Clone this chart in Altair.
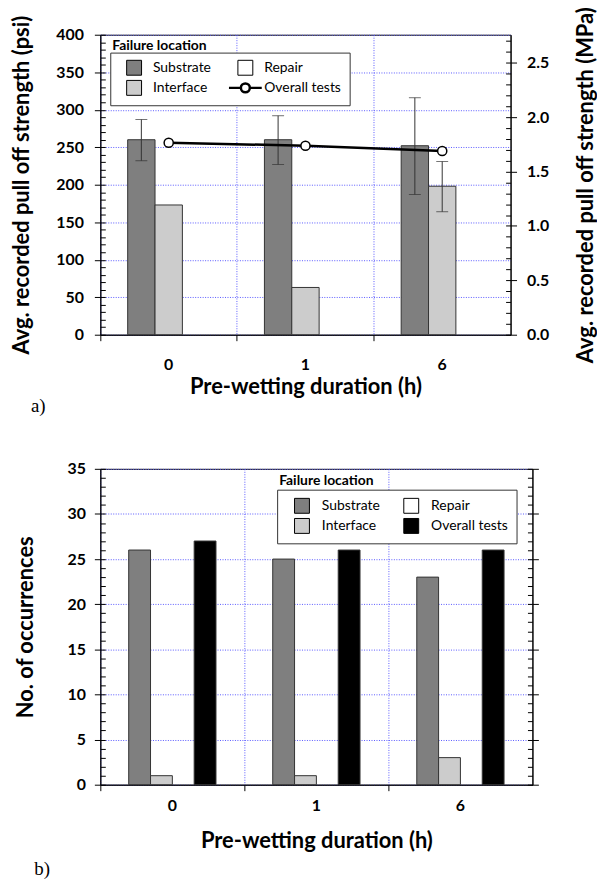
import altair as alt
import pandas as pd

# ---------------- data ----------------
durations = ["0", "1", "6"]
legend_order = ["Substrate", "Interface", "Repair", "Overall tests"]
legend_title = "Failure location"

# (a) average recorded pull-off strength, psi
substrate_psi = [260, 260, 252]
substrate_err_lo = [232, 227, 187]
substrate_err_hi = [287, 292, 316]
interface_psi = [173, 63, 198]
interface_err_lo = [None, None, 164]
interface_err_hi = [None, None, 231]
overall_psi = [256, 252, 245]

# (b) number of occurrences
substrate_n = [26, 25, 23]
interface_n = [1, 1, 3]
overall_n = [27, 26, 26]

PSI_TO_MPA = 0.00689476
PSI_MAX = 400
N_MAX = 35

# ---------------- tables ----------------
bars_a = pd.DataFrame(
    [{"duration": d, "location": "Substrate", "value": v} for d, v in zip(durations, substrate_psi)]
    + [{"duration": d, "location": "Interface", "value": v} for d, v in zip(durations, interface_psi)]
)
err_rows = []
for d, lo, hi in zip(durations, substrate_err_lo, substrate_err_hi):
    err_rows.append({"duration": d, "location": "Substrate", "lo": lo, "hi": hi})
for d, lo, hi in zip(durations, interface_err_lo, interface_err_hi):
    if lo is not None:
        err_rows.append({"duration": d, "location": "Interface", "lo": lo, "hi": hi})
err_a = pd.DataFrame(err_rows)
line_a = pd.DataFrame({"duration": durations, "value": overall_psi})

bars_b = pd.DataFrame(
    [{"duration": d, "location": "Substrate", "value": v} for d, v in zip(durations, substrate_n)]
    + [{"duration": d, "location": "Interface", "value": v} for d, v in zip(durations, interface_n)]
    + [{"duration": d, "location": "Overall tests", "value": v} for d, v in zip(durations, overall_n)]
)

# helper tables that only carry the axis ranges (for the extra tick axes)
axis_a = pd.DataFrame({"duration": [durations[0]] * 2, "psi": [0, PSI_MAX],
                       "grp": [legend_title, legend_title]})
axis_a["mpa"] = axis_a["psi"] * PSI_TO_MPA
axis_b = pd.DataFrame({"duration": [durations[0]] * 2, "n": [0, N_MAX],
                       "grp": [legend_title, legend_title]})

# ---------------- style ----------------
W1, H1 = 413, 302
W2, H2 = 435, 318
GRID = "#5a5aff"
FONT = "Lato"
SUB, INTF, REP = "#7f7f7f", "#cccccc", "white"

OVERALL_SHAPE = ("M-2.2,0L-0.6,0M0.6,0L2.2,0"
                 "M0.6,0A0.6,0.6,0,1,1,-0.6,0A0.6,0.6,0,1,1,0.6,0")


def x_enc(label_pad, title_pad):
    return alt.X(
        "duration:N",
        scale=alt.Scale(domain=durations, paddingInner=0, paddingOuter=0),
        axis=alt.Axis(
            title="Pre-wetting duration (h)", bandPosition=0,
            labelAngle=0, grid=True, gridColor=GRID, gridDash=[1, 1.5], gridWidth=1,
            tickSize=6, tickColor="black", domainColor="black",
            labelPadding=label_pad, titlePadding=title_pad,
        ),
    )


def lin(domain):
    return alt.Scale(domain=domain, nice=False, zero=True)


def minor_axis(orient, offset, values):
    return alt.Axis(orient=orient, offset=offset, values=values, labels=False,
                    domain=False, grid=False, title=None, tickSize=5,
                    tickColor="black", tickWidth=1)


def title_legend(lx, ly):
    return alt.Legend(title=legend_title, orient="none", legendX=lx, legendY=ly,
                      labelExpr="''", symbolOpacity=0, symbolSize=0,
                      symbolStrokeWidth=0, padding=0, titleFont=FONT,
                      titleFontSize=14, titleFontWeight="bold", titleColor="black")


def color_legend(lx, ly, colpad, overall_line):
    kw = dict(
        title=None, orient="none", legendX=lx, legendY=ly, columns=2,
        symbolSize=225, symbolStrokeColor="black", symbolOffset=9,
        labelOffset=12, columnPadding=colpad, rowPadding=0.5, padding=8,
        strokeColor="#333333", fillColor="white", labelFont=FONT,
        labelFontSize=14, labelFontWeight="normal", labelColor="black",
        symbolType="square", symbolStrokeWidth=1,
    )
    if overall_line:
        kw["symbolType"] = {"expr": f"datum.value === 'Overall tests' ? '{OVERALL_SHAPE}' : 'square'"}
        kw["symbolStrokeWidth"] = {"expr": "datum.value === 'Overall tests' ? 2.5 : 1"}
    return alt.Legend(**kw)


def panel_title(text, offset, dx):
    return alt.TitleParams(text, orient="bottom", anchor="start", font="Liberation Serif",
                           fontSize=19, fontWeight="normal", color="black", offset=offset, dx=dx)


# ---------------- chart (a) ----------------
xa = x_enc(16, 4)
xoa = alt.XOffset("location:N", scale=alt.Scale(domain=["Substrate", "Interface", "Repair"],
                                                paddingInner=0, paddingOuter=1.0))
psi_scale = lin([0, PSI_MAX])
mpa_scale = lin([0, PSI_MAX * PSI_TO_MPA])

bars_a_ch = alt.Chart(bars_a).mark_bar(stroke="#333333", strokeWidth=1).encode(
    x=xa, xOffset=xoa,
    y=alt.Y("value:Q", scale=psi_scale, axis=alt.Axis(
        title="Avg. recorded pull off strength (psi)", values=list(range(0, 401, 50)),
        grid=True, gridColor=GRID, gridDash=[1, 1.5], tickSize=6, tickColor="black",
        domainColor="black", labelPadding=11, titlePadding=22)),
    color=alt.Color("location:N", scale=alt.Scale(domain=legend_order, range=[SUB, INTF, REP, "white"]),
                    legend=color_legend(10, 18, 12, True)),
)
err_rule = alt.Chart(err_a).mark_rule(color="#333333", strokeWidth=1).encode(
    x=xa, xOffset=xoa, y=alt.Y("lo:Q", scale=psi_scale, axis=None), y2="hi:Q")
cap_lo = alt.Chart(err_a).mark_tick(color="#333333", thickness=1, size=12, orient="horizontal").encode(
    x=xa, xOffset=xoa, y=alt.Y("lo:Q", scale=psi_scale, axis=None))
cap_hi = alt.Chart(err_a).mark_tick(color="#333333", thickness=1, size=12, orient="horizontal").encode(
    x=xa, xOffset=xoa, y=alt.Y("hi:Q", scale=psi_scale, axis=None))
line_ch = alt.Chart(line_a).mark_line(color="black", strokeWidth=2.5).encode(
    x=xa, y=alt.Y("value:Q", scale=psi_scale, axis=None))
pts_ch = alt.Chart(line_a).mark_point(filled=True, fill="white", stroke="black", strokeWidth=1.5,
                                      size=85, opacity=1).encode(
    x=xa, y=alt.Y("value:Q", scale=psi_scale, axis=None))

minor_psi = alt.Chart(axis_a).mark_point(opacity=0).encode(
    x=xa,
    y=alt.Y("psi:Q", scale=psi_scale, axis=minor_axis("right", -W1, list(range(0, 401, 10)))),
    shape=alt.Shape("grp:N", legend=title_legend(12, 4)),
)
mpa_major = alt.Chart(axis_a).mark_point(opacity=0).encode(
    x=xa,
    y=alt.Y("mpa:Q", scale=mpa_scale, axis=alt.Axis(
        orient="right", values=[0, 0.5, 1.0, 1.5, 2.0, 2.5], format=".1f",
        title="Avg. recorded pull off strength (MPa)", titleAngle=270, titleBaseline="top",
        grid=False, tickSize=6, tickColor="black", domainColor="black",
        labelPadding=10, titlePadding=27)))
mpa_minor = alt.Chart(axis_a).mark_point(opacity=0).encode(
    x=xa,
    y=alt.Y("mpa:Q", scale=mpa_scale,
            axis=minor_axis("left", -W1, [round(i * 0.1, 1) for i in range(28)])))

chart_a = alt.layer(
    bars_a_ch, err_rule, cap_lo, cap_hi, line_ch, pts_ch, minor_psi, mpa_major, mpa_minor
).resolve_scale(y="independent").properties(
    width=W1, height=H1, title=panel_title("a)", 0, 20),
)

# ---------------- chart (b) ----------------
xb = x_enc(7, 17)
# blank end slots reproduce the outer gap around the four bar slots
xob = alt.XOffset("location:N", scale=alt.Scale(
    domain=[" ", "Substrate", "Interface", "Repair", "Overall tests", "  "],
    paddingInner=0, paddingOuter=0.3))
n_scale = lin([0, N_MAX])

bars_b_ch = alt.Chart(bars_b).mark_bar(stroke="#333333", strokeWidth=1).encode(
    x=xb, xOffset=xob,
    y=alt.Y("value:Q", scale=n_scale, axis=alt.Axis(
        title="No. of occurrences", values=list(range(0, 36, 5)),
        grid=True, gridColor=GRID, gridDash=[1, 1.5], tickSize=6, tickColor="black",
        domainColor="black", labelPadding=9, titlePadding=30)),
    color=alt.Color("location:N", scale=alt.Scale(domain=legend_order, range=[SUB, INTF, REP, "black"]),
                    legend=color_legend(178, 21, 14, False)),
)
minor_n_left = alt.Chart(axis_b).mark_point(opacity=0).encode(
    x=xb,
    y=alt.Y("n:Q", scale=n_scale, axis=minor_axis("right", -W2, list(range(0, 36)))),
    shape=alt.Shape("grp:N", legend=title_legend(180, 5)),
)
right_n_major = alt.Chart(axis_b).mark_point(opacity=0).encode(
    x=xb,
    y=alt.Y("n:Q", scale=n_scale, axis=alt.Axis(
        orient="right", values=list(range(0, 36, 5)), labels=False, title=None, grid=False,
        tickSize=6, tickColor="black", domainColor="black")))
right_n_minor = alt.Chart(axis_b).mark_point(opacity=0).encode(
    x=xb,
    y=alt.Y("n:Q", scale=n_scale, axis=minor_axis("left", -W2, list(range(0, 36)))))

chart_b = alt.layer(
    bars_b_ch, minor_n_left, right_n_major, right_n_minor
).resolve_scale(y="independent").properties(
    width=W2, height=H2, title=panel_title("b)", 9, 20),
)

chart = alt.vconcat(chart_a, chart_b, spacing=135, bounds="flush").resolve_scale(
    color="independent", shape="independent", x="independent", xOffset="independent", y="independent"
).resolve_legend(color="independent", shape="independent").properties(
    padding={"left": 10, "top": 3, "right": 0, "bottom": 0}
).configure_view(stroke="black", strokeWidth=1).configure_axis(
    labelFont=FONT, labelFontWeight="bold", labelFontSize=16, labelColor="black",
    titleFont=FONT, titleFontWeight="bold", titleFontSize=22, titleColor="black",
)

chart.save("out.html", embed_options={"renderer": "svg", "actions": False})
